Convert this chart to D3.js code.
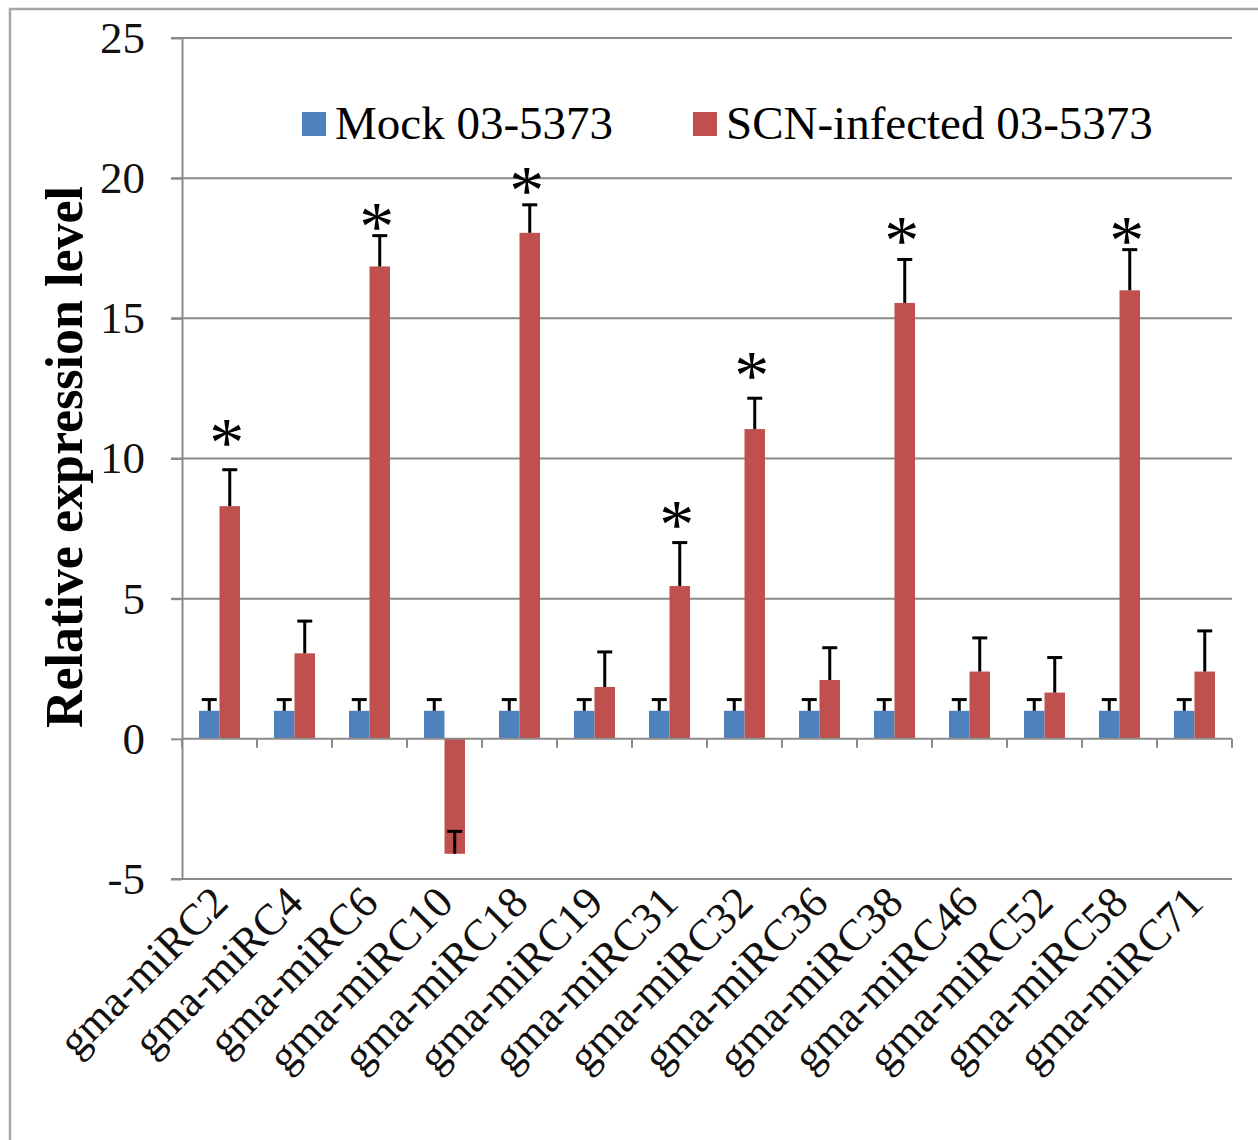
<!DOCTYPE html>
<html>
<head>
<meta charset="utf-8">
<script src="https://cdn.jsdelivr.net/npm/d3@7"></script>
<style>
    body { margin: 0; background: #fff; }
    svg text { font-family: "Liberation Serif", "Times New Roman", serif; }
</style>
</head>
<body>
<div id="chart"></div>
<script>
const categories = ["gma-miRC2", "gma-miRC4", "gma-miRC6", "gma-miRC10", "gma-miRC18", "gma-miRC19", "gma-miRC31",
    "gma-miRC32", "gma-miRC36", "gma-miRC38", "gma-miRC46", "gma-miRC52", "gma-miRC58", "gma-miRC71"];
const mock = [1, 1, 1, 1, 1, 1, 1, 1, 1, 1, 1, 1, 1, 1];
const mockErr = [0.4, 0.4, 0.4, 0.4, 0.4, 0.4, 0.4, 0.4, 0.4, 0.4, 0.4, 0.4, 0.4, 0.4];
const scn = [8.3, 3.05, 16.85, -4.1, 18.05, 1.85, 5.45, 11.05, 2.1, 15.55, 2.4, 1.65, 16.0, 2.4];
const scnErr = [1.3, 1.15, 1.1, 0.8, 1.0, 1.25, 1.55, 1.1, 1.15, 1.55, 1.2, 1.25, 1.45, 1.45];
// level (in axis units) where the significance star sits, null = none
const stars = [10.9, null, 18.6, null, 19.9, null, 8.0, 13.3, null, 18.1, null, null, 18.1, null];
const yTicks = [-5, 0, 5, 10, 15, 20, 25];
const seriesNames = ["Mock 03-5373", "SCN-infected 03-5373"];
const colors = ["#4f81bd", "#c0504d"];

const width = 1258, height = 1140;
const plotLeft = 182, plotRight = 1232, plotTop = 38, plotBottom = 879;
const grid = "#8a8a8a";

const svg = d3.select("#chart").append("svg")
    .attr("width", width)
    .attr("height", height);

// outer frame
svg.append("rect")
    .attr("x", 10).attr("y", 9)
    .attr("width", 1270).attr("height", 1160)
    .attr("fill", "none")
    .attr("stroke", "#a6a6a6")
    .attr("stroke-width", 2.5);

const y = d3.scaleLinear([-5, 25], [plotBottom, plotTop]);
const x = d3.scaleBand(categories, [plotLeft, plotRight]);
const xs = d3.scaleBand([0, 1], [0, x.bandwidth()]).paddingOuter(0.83);

// gridlines (zero line is drawn as the axis)
svg.append("g").selectAll("line")
    .data(yTicks.filter(d => d !== 0))
    .join("line")
    .attr("x1", plotLeft - 11).attr("x2", plotRight)
    .attr("y1", d => y(d)).attr("y2", d => y(d))
    .attr("stroke", grid).attr("stroke-width", 2);

// y axis
const yAxis = svg.append("g")
    .attr("transform", `translate(${plotLeft},0)`)
    .call(d3.axisLeft(y).tickValues(yTicks).tickFormat(d => String(d))
        .tickSize(11).tickPadding(26).tickSizeOuter(0));
yAxis.select(".domain").attr("stroke", grid).attr("stroke-width", 2);
yAxis.selectAll(".tick line").attr("stroke", grid).attr("stroke-width", 2);
yAxis.selectAll("text").attr("font-size", 45).attr("fill", "#111")
    .style("font-family", '"Liberation Serif", serif');

svg.append("text")
    .attr("transform", `translate(82,457) rotate(-90)`)
    .attr("text-anchor", "middle")
    .attr("font-size", 52)
    .attr("font-weight", "bold")
    .attr("fill", "#000")
    .text("Relative expression level");

// bars
const groups = svg.append("g").selectAll("g")
    .data(categories)
    .join("g")
    .attr("transform", d => `translate(${x(d)},0)`);

[mock, scn].forEach((vals, s) => {
    groups.append("rect")
        .attr("x", xs(s))
        .attr("width", xs.bandwidth())
        .attr("y", (d, i) => y(Math.max(0, vals[i])))
        .attr("height", (d, i) => Math.abs(y(vals[i]) - y(0)))
        .attr("fill", colors[s]);
});

// error bars
[[mock, mockErr], [scn, scnErr]].forEach(([vals, errs], s) => {
    const cx = xs(s) + xs.bandwidth() / 2;
    groups.append("line")
        .attr("x1", cx).attr("x2", cx)
        .attr("y1", (d, i) => y(vals[i]))
        .attr("y2", (d, i) => y(vals[i] + errs[i]))
        .attr("stroke", "#000").attr("stroke-width", 3);
    groups.append("line")
        .attr("x1", cx - 7.5).attr("x2", cx + 7.5)
        .attr("y1", (d, i) => y(vals[i] + errs[i]))
        .attr("y2", (d, i) => y(vals[i] + errs[i]))
        .attr("stroke", "#000").attr("stroke-width", 3);
});

// significance stars
groups.filter((d, i) => stars[i] !== null)
    .append("text")
    .attr("x", xs(1) + xs.bandwidth() / 2 - 3)
    .attr("y", d => y(stars[categories.indexOf(d)]) + 33)
    .attr("text-anchor", "middle")
    .attr("font-size", 70)
    .attr("fill", "#000")
    .text("*");

// zero axis with ticks at category boundaries
svg.append("line")
    .attr("x1", plotLeft).attr("x2", plotRight)
    .attr("y1", y(0)).attr("y2", y(0))
    .attr("stroke", grid).attr("stroke-width", 2);
svg.append("g").selectAll("line")
    .data(categories.map(c => x(c)).concat([plotRight]))
    .join("line")
    .attr("x1", d => d).attr("x2", d => d)
    .attr("y1", y(0)).attr("y2", y(0) + 9)
    .attr("stroke", grid).attr("stroke-width", 2);

// category labels
const xAxis = svg.append("g")
    .attr("transform", `translate(0,${plotBottom})`)
    .call(d3.axisBottom(x).tickSize(0).tickPadding(0));
xAxis.select(".domain").remove();
xAxis.selectAll("text")
    .attr("font-size", 44)
    .attr("fill", "#111")
    .style("font-family", '"Liberation Serif", serif')
    .attr("text-anchor", "end")
    .attr("x", 0).attr("y", 0).attr("dy", "0.35em")
    .attr("transform", "translate(0,15) rotate(-45)");

// legend
const legend = svg.append("g");
const legendX = [302, 693];
seriesNames.forEach((name, s) => {
    legend.append("rect")
        .attr("x", legendX[s]).attr("y", 112)
        .attr("width", 24).attr("height", 24)
        .attr("fill", colors[s]);
    legend.append("text")
        .attr("x", legendX[s] + 33).attr("y", 139)
        .attr("font-size", 47)
        .attr("fill", "#000")
        .text(name);
});
</script>
</body>
</html>
